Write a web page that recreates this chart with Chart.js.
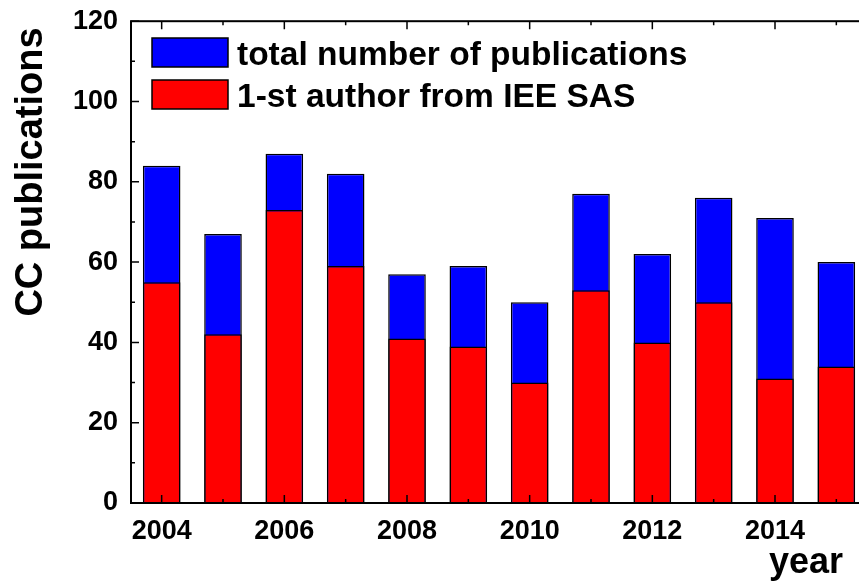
<!DOCTYPE html>
<html>
<head>
<meta charset="utf-8">
<script src="https://cdn.jsdelivr.net/npm/chart.js@4.4.1/dist/chart.umd.min.js"></script>
<style>
  html, body { margin: 0; padding: 0; background: #fff; overflow: hidden; }
  #wrap { width: 880px; height: 581px; }
</style>
</head>
<body>
<div id="wrap"><canvas id="c" width="880" height="581"></canvas></div>
<script>
const years = ["2004", "2005", "2006", "2007", "2008", "2009", "2010", "2011", "2012", "2013", "2014", "2015"];
const totalPubs = [84, 67, 87, 82, 57, 59, 50, 77, 62, 76, 71, 60];
const firstAuthor = [55, 42, 73, 59, 41, 39, 30, 53, 40, 50, 31, 34];
const yTicks = [0, 20, 40, 60, 80, 100, 120];
const seriesNames = ["total number of publications", "1-st author from IEE SAS"];

const FONT = "'Liberation Sans', Arial, sans-serif";
const BLUE = "#0000ff", RED = "#ff0000";

// axis box with inward major / minor ticks on all sides
const framePlugin = {
    id: "frame",
    afterDatasetsDraw(chart) {
        const ctx = chart.ctx, a = chart.chartArea;
        const xs = chart.scales.x, ys = chart.scales.y;
        ctx.save();
        ctx.strokeStyle = "#000";
        ctx.lineWidth = 2;
        ctx.strokeRect(a.left, a.top, a.right - a.left, a.bottom - a.top);
        ctx.lineWidth = 1.5;
        ctx.beginPath();
        years.forEach((y, i) => {
            const px = xs.getPixelForValue(i);
            const len = (i % 2 === 0) ? 8 : 4;
            ctx.moveTo(px, a.bottom); ctx.lineTo(px, a.bottom - len);
            ctx.moveTo(px, a.top); ctx.lineTo(px, a.top + len);
        });
        for (let v = 0; v <= 120; v += 10) {
            const py = ys.getPixelForValue(v);
            const len = (v % 20 === 0) ? 8 : 4;
            ctx.moveTo(a.left, py); ctx.lineTo(a.left + len, py);
            ctx.moveTo(a.right, py); ctx.lineTo(a.right - len, py);
        }
        ctx.stroke();
        ctx.restore();
    },
    afterDraw(chart) {
        const ctx = chart.ctx;
        ctx.save();
        ctx.fillStyle = "#000";
        // axis titles
        ctx.font = "bold 38px " + FONT;
        ctx.textAlign = "center";
        ctx.textBaseline = "alphabetic";
        ctx.translate(42, 172);
        ctx.rotate(-Math.PI / 2);
        ctx.fillText("CC publications", 0, 0);
        ctx.restore();
        ctx.save();
        ctx.fillStyle = "#000";
        ctx.font = "bold 36px " + FONT;
        ctx.textAlign = "center";
        ctx.fillText("year", 806, 573);
        // legend, blue first
        const order = [1, 0];
        ctx.font = "bold 33.5px " + FONT;
        ctx.textAlign = "left";
        order.forEach((di, row) => {
            const ds = chart.data.datasets[di];
            const top = 38 + row * 42;
            ctx.fillStyle = ds.backgroundColor;
            ctx.fillRect(152, top, 76, 29);
            ctx.strokeStyle = "#000";
            ctx.lineWidth = 1.5;
            ctx.strokeRect(152, top, 76, 29);
            ctx.fillStyle = "#000";
            ctx.fillText(ds.label, 237, top + 27);
        });
        ctx.restore();
    }
};

new Chart(document.getElementById("c"), {
    type: "bar",
    data: {
        labels: years,
        datasets: [
            { label: seriesNames[1], data: firstAuthor, backgroundColor: RED, borderColor: "#000", borderWidth: 1.5 },
            { label: seriesNames[0], data: totalPubs, backgroundColor: BLUE, borderColor: "#000", borderWidth: 1.5 }
        ]
    },
    options: {
        responsive: false,
        animation: false,
        layout: { padding: { left: 0, top: 18, right: 13, bottom: 0 } },
        datasets: { bar: { grouped: false, barPercentage: 0.613, categoryPercentage: 1.0 } },
        plugins: { legend: { display: false }, tooltip: { enabled: false } },
        scales: {
            x: {
                grid: { display: false },
                border: { display: false },
                ticks: {
                    autoSkip: false,
                    maxRotation: 0,
                    padding: 4,
                    color: "#000",
                    font: { family: FONT, size: 27, weight: "bold" },
                    callback: function(v, i) { return i % 2 === 0 ? years[i] : ""; }
                },
                afterFit: function(s) { s.height = 78; }
            },
            y: {
                min: 0,
                max: 120,
                grid: { display: false },
                border: { display: false },
                afterBuildTicks: function(s) { s.ticks = yTicks.map(v => ({ value: v })); },
                ticks: {
                    padding: 5,
                    color: "#000",
                    font: { family: FONT, size: 27, weight: "bold" }
                },
                afterFit: function(s) { s.width = 131; }
            }
        }
    },
    plugins: [framePlugin]
});
</script>
</body>
</html>
